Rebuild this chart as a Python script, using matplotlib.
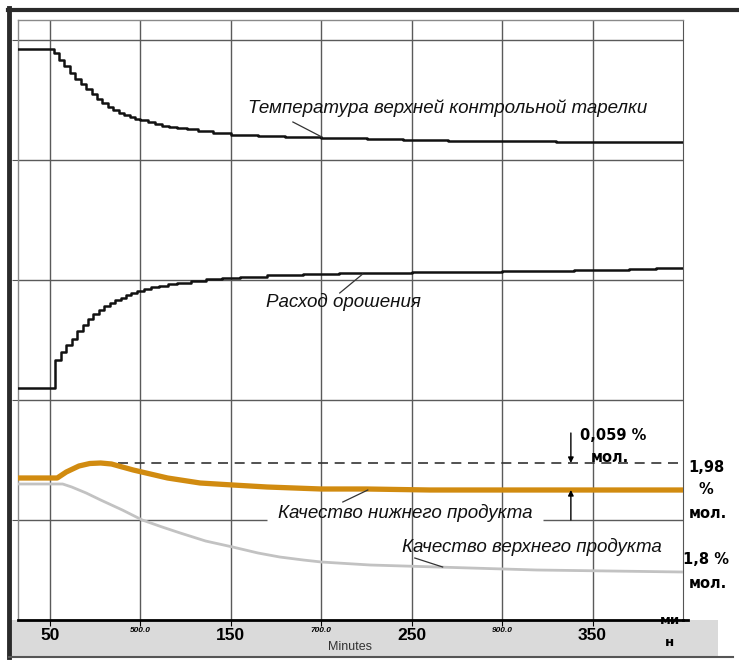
import matplotlib
matplotlib.use("Agg")
import matplotlib.pyplot as plt
from matplotlib.patches import Rectangle
from matplotlib.lines import Line2D

W, H = 739, 660
plt.rcParams['font.family'] = ['Liberation Sans', 'DejaVu Sans']

# ---------------- data (time in minutes, values in arbitrary chart units) ----------------
temp_t = [32, 52, 55, 58, 61, 64, 67, 70, 73, 76, 79, 82, 85, 88, 91, 94, 97, 100, 104, 108,
          112, 116, 120, 126, 132, 140, 150, 165, 180, 200, 225, 245, 270, 330, 400]
temp_v = [571, 567, 560, 554, 547, 541, 536, 531, 526, 521, 517, 513, 510, 507, 505, 503, 501, 500, 498, 496,
          494, 493, 492, 491, 489, 487, 485, 484, 483, 482, 481, 480, 479, 478, 478]

reflux_t = [32, 53, 56, 59, 62, 65, 68, 71, 74, 77, 80, 83, 86, 89, 92, 95, 98, 102, 106, 110,
            115, 120, 128, 136, 145, 155, 170, 190, 210, 250, 300, 340, 370, 385, 400]
reflux_v = [232, 260, 268, 275, 281, 289, 295, 301, 306, 310, 314, 317, 320, 322, 325, 327, 329, 331, 333, 334,
            336, 337, 339, 341, 342, 343, 345, 346, 347, 348, 349, 350, 351, 352, 352]

bottom_t = [32, 54, 59, 66, 72, 78, 84, 96, 115, 133, 151, 170, 200, 225, 260, 400]
bottom_v = [142, 142, 148, 154, 156.5, 157, 156, 150, 142, 137, 135, 133, 131, 131, 130, 130]

top_t = [32, 57, 62, 70, 78, 90, 101, 112, 122, 136, 151, 165, 177, 190, 200, 227, 264, 319, 400]
top_v = [136, 136, 133, 127, 120, 110, 100, 93, 87, 79, 73, 67, 63, 60, 58, 55, 53, 50, 48]

ref_level = 157      # 1,98 % мол.
ref_start = 87.6
arrow_t = 338

major_ticks = [50, 150, 250, 350]
minor_ticks = [100, 200, 300]
minor_labels = ["500.0", "700.0", "900.0"]
grid_x = [50, 100, 150, 200, 250, 300, 350]
grid_y = [100, 220, 340, 460, 580]

labels = {
    "temp": "Температура верхней контрольной тарелки",
    "reflux": "Расход орошения",
    "bottom": "Качество нижнего продукта",
    "top": "Качество верхнего продукта",
}

# ---------------- figure ----------------
fig = plt.figure(figsize=(W / 100, H / 100), dpi=100)


def fx(x):
    return x / W


def fy(y):
    return 1 - y / H


# bottom gray band
fig.patches.append(Rectangle((fx(11), fy(657)), fx(718) - fx(11), fy(620) - fy(657),
                             transform=fig.transFigure, facecolor='#dadada', edgecolor='none', zorder=-5))
# outer frame
fig.add_artist(Line2D([fx(9), fx(9)], [fy(8), fy(657)], color='#2a2a2a', lw=3.5))
fig.add_artist(Line2D([fx(8), fx(739)], [fy(9.5), fy(9.5)], color='#2a2a2a', lw=3))
fig.add_artist(Line2D([fx(9), fx(733)], [fy(657), fy(657)], color='#555555', lw=1.5))

ax = fig.add_axes([fx(18), fy(620), fx(683) - fx(18), fy(20) - fy(620)])
ax.set_xlim(32.3, 400)
ax.set_ylim(0, 600)
ax.set_facecolor('white')

for s in ['left', 'top']:
    ax.spines[s].set_color('#8a8a8a')
    ax.spines[s].set_linewidth(1)
ax.spines['right'].set_color('#555555')
ax.spines['bottom'].set_color('black')
ax.spines['bottom'].set_linewidth(2)

# grid
for gx in grid_x:
    ax.axvline(gx, color='#5a5a5a', lw=1, zorder=1)
for gy in grid_y:
    if gy == 100:
        ax.hlines(gy, 32.3, 169.9, color='#5a5a5a', lw=1, zorder=1)
        ax.hlines(gy, 322.4, 400, color='#5a5a5a', lw=1, zorder=1)
    else:
        ax.axhline(gy, color='#5a5a5a', lw=1, zorder=1)

ax.set_yticks(grid_y)
ax.set_yticklabels([])
ax.tick_params(axis='y', length=4, color='#555555', direction='out')
ax.set_xticks(grid_x)
ax.set_xticklabels([])
ax.tick_params(axis='x', length=4, color='black', direction='out')

# curves
ax.plot(temp_t, temp_v, drawstyle='steps-post', color='#111111', lw=1.8, zorder=3)
ax.plot(reflux_t, reflux_v, drawstyle='steps-post', color='#111111', lw=1.8, zorder=3)
ax.plot(top_t, top_v, color='#c2c2c2', lw=2.0, zorder=3)
ax.plot(bottom_t, bottom_v, color='#d18b10', lw=3.8, zorder=4, solid_capstyle='butt')
ax.hlines(ref_level, ref_start, 400, colors='#333333', linestyles=(0, (6, 4)), lw=1.2, zorder=3)

# curve labels and leader lines
lab_kw = dict(fontsize=13.5, style='italic', color='#111111', va='center', ha='left', zorder=5)
ax.text(159.4, 512, labels["temp"], **lab_kw)
ax.plot([184.3, 200.3], [498, 483], color='#333333', lw=0.9, zorder=5)
ax.text(169.3, 318, labels["reflux"], **lab_kw)
ax.plot([210.2, 222.9], [327, 346], color='#333333', lw=0.9, zorder=5)
ax.text(176, 107, labels["bottom"], **lab_kw)
ax.plot([211.9, 225.7], [118, 130], color='#333333', lw=0.9, zorder=5)
ax.text(244.5, 73, labels["top"], **lab_kw)
ax.plot([251.7, 267.1], [62, 53], color='#333333', lw=0.9, zorder=5)

# difference arrows
bold_font = ['DejaVu Sans']
akw = dict(arrowstyle='-|>', color='black', lw=1, mutation_scale=8, shrinkA=0, shrinkB=0)
ax.annotate('', xy=(arrow_t, ref_level), xytext=(arrow_t, 187), arrowprops=akw, zorder=5)
ax.annotate('', xy=(arrow_t, bottom_v[-1]), xytext=(arrow_t, 100), arrowprops=akw, zorder=5)
ax.text(342.8, 185, "0,059 %", fontsize=10.5, fontweight='bold', family=bold_font,
        ha='left', va='center', zorder=5)
ax.text(359.4, 163, "мол.", fontsize=10.5, fontweight='bold', family=bold_font,
        ha='center', va='center', zorder=5)

# x tick labels
for t in major_ticks:
    ax.annotate(str(t), xy=(t, 0), xycoords=('data', 'axes fraction'), xytext=(0, -16),
                textcoords='offset pixels', ha='center', va='center', fontsize=12.5, fontweight='bold',
                annotation_clip=False, clip_on=False)
for t, lab in zip(minor_ticks, minor_labels):
    ax.annotate(lab, xy=(t, 0), xycoords=('data', 'axes fraction'), xytext=(0, -10),
                textcoords='offset pixels', ha='center', va='center', fontsize=6, style='italic',
                fontweight='bold', annotation_clip=False, clip_on=False)

fig.text(fx(350), fy(647), "Minutes", fontsize=9, color='#333333', ha='center', va='center')

# axis arrow and unit
fig.add_artist(Line2D([fx(683), fx(688)], [fy(620), fy(620)], color='black', lw=2))
fig.text(fx(670), fy(621), "ми", fontsize=9.5, fontweight='bold', family=bold_font,
         ha='center', va='center')
fig.text(fx(670), fy(643), "н", fontsize=9.5, fontweight='bold', family=bold_font,
         ha='center', va='center')

# right-side labels
rk = dict(fontsize=10.5, fontweight='bold', family=bold_font, ha='center', va='center')
fig.text(fx(706), fy(467), "1,98", **rk)
fig.text(fx(706), fy(489), "%", **rk)
fig.text(fx(708), fy(513), "мол.", **rk)
fig.text(fx(706), fy(560), "1,8 %", **rk)
fig.text(fx(708), fy(583), "мол.", **rk)

fig.savefig("out.png", dpi=100)
